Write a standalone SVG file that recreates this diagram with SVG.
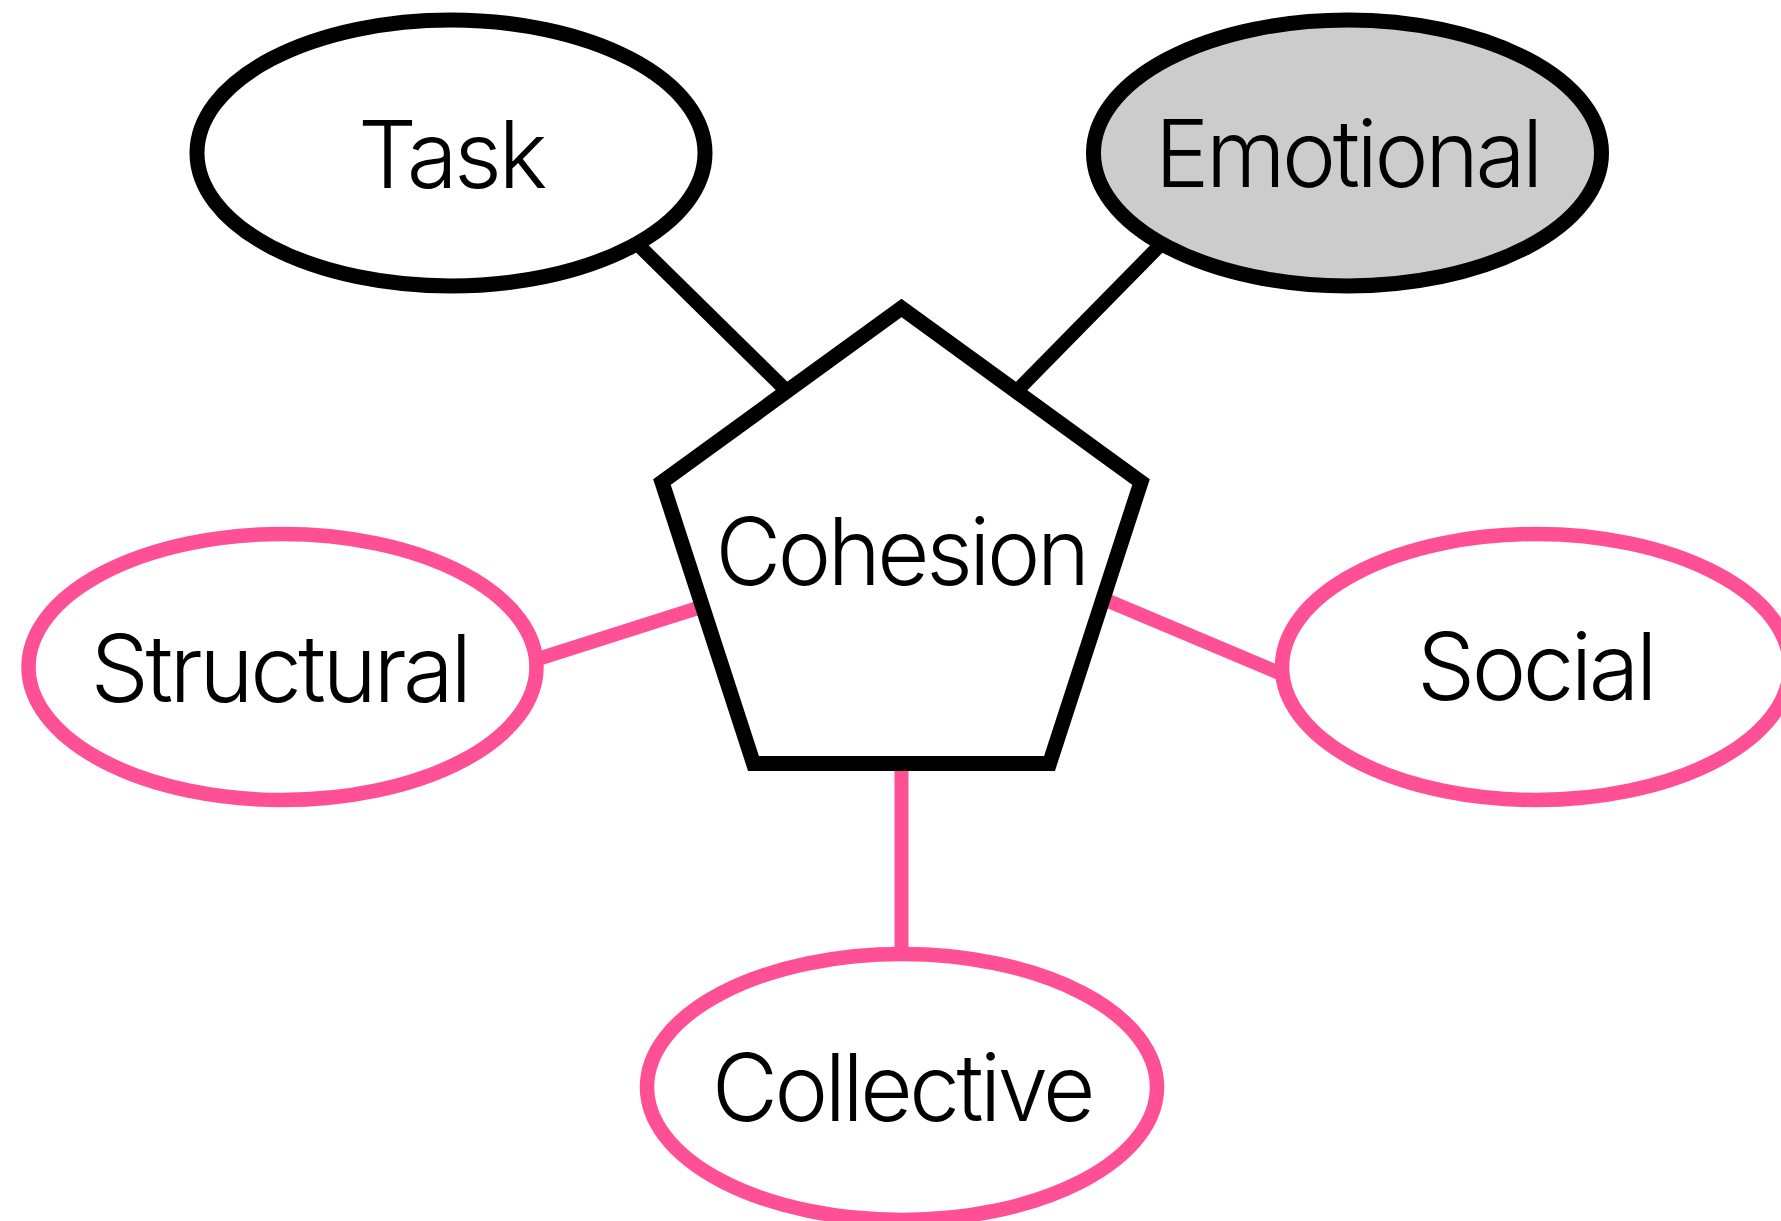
<svg xmlns="http://www.w3.org/2000/svg" width="1781" height="1221" viewBox="0 0 1781 1221">
<style>
.bg{fill:#ffffff}
.blk{stroke:#000000;stroke-width:15;fill:#ffffff}
.pink{stroke:#FF5096;stroke-width:14.5;fill:#ffffff}
.lb{stroke:#000000;stroke-width:14;fill:none}
.lp{stroke:#FF5096;stroke-width:14;fill:none}
.t{font-family:"Inter","Liberation Sans",Arial,sans-serif;font-weight:300;font-size:93px;letter-spacing:-3.5px;fill:#000000;text-anchor:middle}
</style>
<rect class="bg" x="0" y="0" width="1781" height="1221"/>
<g id="connectors">
<line class="lb" x1="620" y1="227" x2="800" y2="404"/>
<line class="lb" x1="1176" y1="229" x2="1003" y2="405"/>
<line class="lp" x1="530" y1="661.5" x2="720" y2="601"/>
<line class="lp" x1="1090" y1="593.3" x2="1300" y2="681.7"/>
<line class="lp" x1="901.5" y1="740" x2="901.5" y2="980"/>
</g>
<g id="task">
<ellipse class="blk" cx="451" cy="153" rx="254" ry="133"/>
<text class="t" x="451" y="188" textLength="186" lengthAdjust="spacingAndGlyphs">Task</text>
</g>
<g id="emotional">
<ellipse class="blk" cx="1347.5" cy="153" rx="254" ry="133" style="fill:#cccccc"/>
<text class="t" x="1347.5" y="187" textLength="385" lengthAdjust="spacingAndGlyphs">Emotional</text>
</g>
<g id="cohesion">
<polygon class="blk" points="901.5,308 1141,482 1049.5,763.5 753.5,763.5 662,482"/>
<text class="t" x="901" y="585" textLength="371" lengthAdjust="spacingAndGlyphs">Cohesion</text>
</g>
<g id="structural">
<ellipse class="pink" cx="282.5" cy="667" rx="254" ry="133"/>
<text class="t" x="279.5" y="702" textLength="378" lengthAdjust="spacingAndGlyphs">Structural</text>
</g>
<g id="social">
<ellipse class="pink" cx="1536" cy="667" rx="254" ry="133"/>
<text class="t" x="1535.5" y="700" textLength="237" lengthAdjust="spacingAndGlyphs">Social</text>
</g>
<g id="collective">
<ellipse class="pink" cx="902" cy="1087" rx="255" ry="133"/>
<text class="t" x="902" y="1121" textLength="380" lengthAdjust="spacingAndGlyphs">Collective</text>
</g>
</svg>
